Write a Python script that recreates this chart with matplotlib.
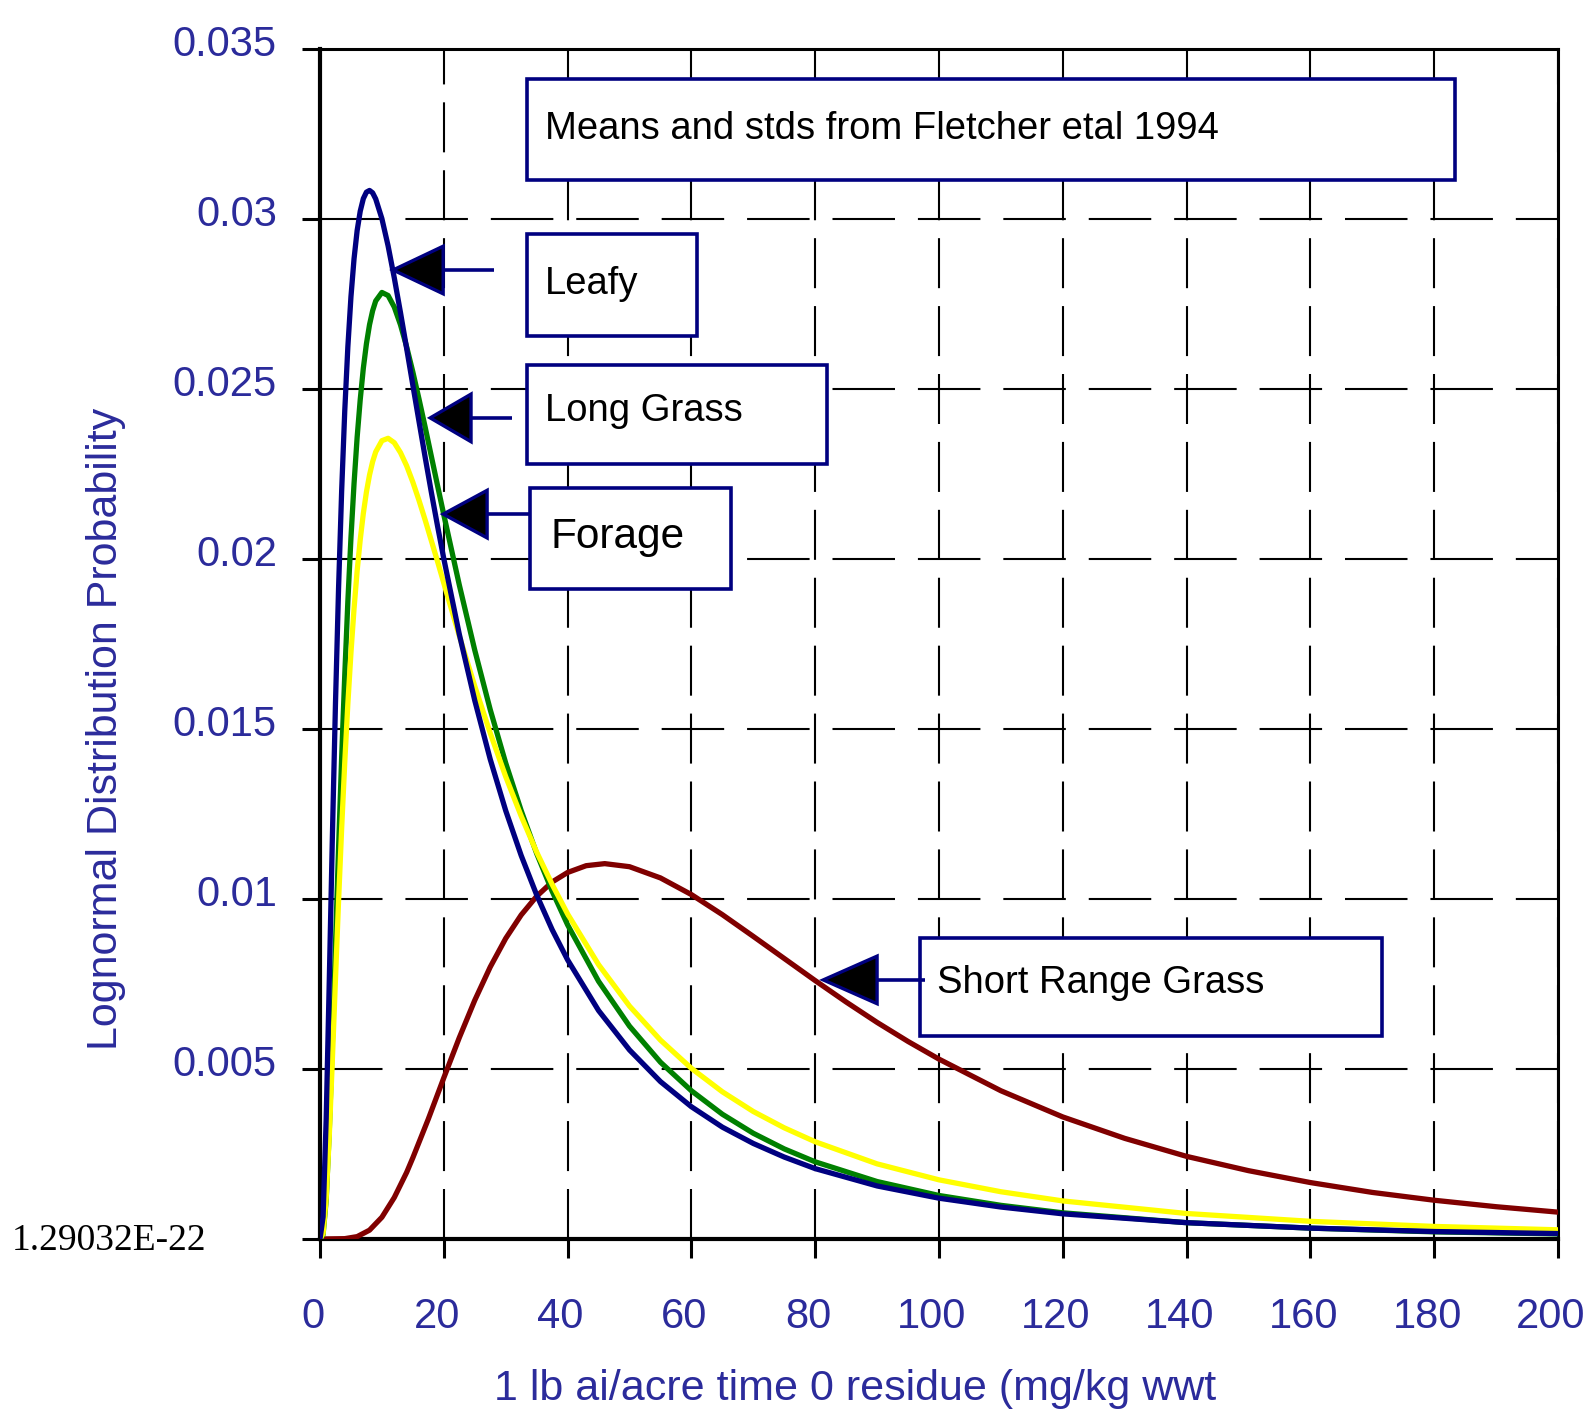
import matplotlib
matplotlib.use('Agg')
import matplotlib.pyplot as plt
from matplotlib.patches import Rectangle, Polygon
from matplotlib.transforms import ScaledTranslation

# ---------------- data ----------------
x_main = [0, 0.5, 1, 1.5, 2, 2.5, 3, 3.5, 4, 4.5, 5, 5.5, 6, 6.5, 7, 7.5, 8, 8.5,
          9, 10, 11, 12, 13, 14, 15, 16, 17, 18, 19, 20, 22.5, 25, 27.5, 30,
          32.5, 35, 37.5, 40, 45, 50, 55, 60, 65, 70, 75, 80, 90, 100, 110, 120,
          140, 160, 180, 200]
leafy = [0, 0.00065, 0.00354, 0.00761, 0.01184, 0.01575, 0.01915, 0.02201,
         0.02436, 0.02624, 0.02771, 0.02883, 0.02966, 0.03023, 0.0306, 0.03079,
         0.03084, 0.03077, 0.03059, 0.03001, 0.02921, 0.02827, 0.02725, 0.02619,
         0.02511, 0.02404, 0.02298, 0.02195, 0.02096, 0.02001, 0.01779, 0.01584,
         0.01411, 0.0126, 0.01128, 0.01012, 0.0091, 0.00821, 0.00672, 0.00556,
         0.00463, 0.00389, 0.00329, 0.00281, 0.00241, 0.00207, 0.00156, 0.0012,
         0.00094, 0.00074, 0.00048, 0.00032, 0.00022, 0.00016]
long_grass = [0, 0.00013, 0.00115, 0.00318, 0.0058, 0.00866, 0.0115, 0.01417,
              0.01659, 0.01875, 0.02062, 0.02222, 0.02358, 0.02469, 0.02561,
              0.02633, 0.02689, 0.0273, 0.02759, 0.02784, 0.02775, 0.02741,
              0.02689, 0.02624, 0.0255, 0.0247, 0.02387, 0.02301, 0.02215, 0.0213,
              0.01924, 0.01732, 0.01557, 0.014, 0.0126, 0.01134, 0.01023, 0.00924,
              0.00758, 0.00626, 0.0052, 0.00436, 0.00367, 0.00311, 0.00265,
              0.00227, 0.00169, 0.00128, 0.00099, 0.00077, 0.00048, 0.00032,
              0.00021, 0.00015]
forage = [0, 0.00016, 0.0012, 0.00303, 0.00528, 0.00764, 0.00994, 0.01208,
          0.01402, 0.01574, 0.01724, 0.01854, 0.01965, 0.02057, 0.02134, 0.02197,
          0.02247, 0.02286, 0.02315, 0.02348, 0.02355, 0.02342, 0.02313, 0.02274,
          0.02226, 0.02172, 0.02114, 0.02053, 0.01992, 0.01929, 0.01774, 0.01626,
          0.01488, 0.0136, 0.01244, 0.01138, 0.01043, 0.00956, 0.00807, 0.00685,
          0.00585, 0.00502, 0.00433, 0.00375, 0.00327, 0.00286, 0.00221, 0.00174,
          0.00139, 0.00112, 0.00075, 0.00052, 0.00037, 0.00027]
x_short = [0, 4, 6, 8, 10, 12, 14, 15, 17.5, 20, 22.5, 25, 27.5, 30, 32.5, 35,
           37.5, 40, 43, 46, 50, 55, 60, 65, 70, 75, 80, 85, 90, 95, 100, 110,
           120, 130, 140, 150, 160, 170, 180, 190, 200]
short_range_grass = [0, 0.00001, 0.00007, 0.00026, 0.00064, 0.00122, 0.00196,
                     0.00239, 0.00353, 0.00474, 0.00592, 0.00702, 0.008, 0.00884,
                     0.00953, 0.01008, 0.0105, 0.01078, 0.01098, 0.01104, 0.01095,
                     0.01062, 0.01013, 0.00954, 0.0089, 0.00825, 0.0076, 0.00697,
                     0.00637, 0.00581, 0.00529, 0.00436, 0.00359, 0.00296,
                     0.00243, 0.00201, 0.00166, 0.00137, 0.00114, 0.00095, 0.00079]

x_ticks = [0, 20, 40, 60, 80, 100, 120, 140, 160, 180, 200]
x_tick_labels = ['0', '20', '40', '60', '80', '100', '120', '140', '160', '180', '200']
y_ticks = [0, 0.005, 0.01, 0.015, 0.02, 0.025, 0.03, 0.035]
y_tick_labels = ['1.29032E-22', '0.005', '0.01', '0.015', '0.02', '0.025', '0.03', '0.035']

x_label = '1 lb ai/acre time 0 residue (mg/kg wwt'
y_label = 'Lognormal Distribution Probability'
note_text = 'Means and stds from Fletcher etal 1994'

# ---------------- styling ----------------
NAVY = '#000080'
TXT_BLUE = '#2b2b9b'
SANS = 'Liberation Sans'

fig = plt.figure(figsize=(15.9, 14.13), dpi=100)
L, R, B, T = 320/1590, 1558/1590, 1 - 1239/1413, 1 - 49/1413
ax = fig.add_axes([L, B, R - L, T - B])

LW = 3.8
kw = dict(lw=LW, zorder=3, solid_joinstyle='round', solid_capstyle='round')
ax.plot(x_short, short_range_grass, color='#800000', **kw)
ax.plot(x_main, long_grass, color='#008000', **kw)
ax.plot(x_main, forage, color='#ffff00', **kw)
ax.plot(x_main, leafy, color=NAVY, **kw)

ax.set_xlim(0, 200)
ax.set_ylim(0, 0.035)
ax.set_xticks(x_ticks)
ax.set_xticklabels(x_tick_labels)
ax.set_yticks(y_ticks)
ax.set_yticklabels(y_tick_labels)

# grid
ax.xaxis.grid(True, color='black', lw=1.5, linestyle=(0, (24, 8.6)), zorder=1)
ax.yaxis.grid(True, color='black', lw=1.5, linestyle=(0, (30, 11)), zorder=1)
ax.set_axisbelow(True)

for s in ['left', 'bottom']:
    ax.spines[s].set_linewidth(3.0)
for s in ['top', 'right']:
    ax.spines[s].set_linewidth(2.2)

ax.tick_params(axis='x', direction='out', length=14, width=2.2, color='black', pad=28)
ax.tick_params(axis='y', direction='out', length=13, width=2.2, color='black', pad=18)

for lab in ax.get_xticklabels():
    lab.set_fontfamily(SANS)
    lab.set_fontsize(30)
    lab.set_color(TXT_BLUE)
    lab.set_transform(lab.get_transform() + ScaledTranslation(-7/100, 0, fig.dpi_scale_trans))
ylabs = ax.get_yticklabels()
for i, lab in enumerate(ylabs):
    if i == 0:
        lab.set_fontfamily('Liberation Serif')
        lab.set_fontsize(27)
        lab.set_color('black')
        lab.set_transform(lab.get_transform() + ScaledTranslation(-71/100, 2/100, fig.dpi_scale_trans))
    else:
        lab.set_fontfamily(SANS)
        lab.set_fontsize(30)
        lab.set_color(TXT_BLUE)
        lab.set_transform(lab.get_transform() + ScaledTranslation(0, 8/100, fig.dpi_scale_trans))

fig.text(494/1590, 1 - 1389/1413, x_label, fontfamily=SANS, fontsize=31,
         color=TXT_BLUE, ha='left', va='center')
fig.text(106/1590, 1 - 729/1413, y_label, fontfamily=SANS, fontsize=31,
         color=TXT_BLUE, ha='center', va='center', rotation=90)

# ---------------- annotation boxes ----------------
def box(x0, x1, y0, y1, text, tx, ty, size):
    ax.add_patch(Rectangle((x0, y0), x1 - x0, y1 - y0, facecolor='white',
                           edgecolor=NAVY, lw=2.6, zorder=6, clip_on=False))
    ax.text(tx, ty, text, fontfamily=SANS, fontsize=size, color='black',
            ha='left', va='center', zorder=7)

def arrow(tipx, tipy, basex, endx, hh=0.0007):
    ax.add_patch(Polygon([(tipx, tipy), (basex, tipy + hh), (basex, tipy - hh)],
                         closed=True, facecolor='black', edgecolor=NAVY, lw=2.4,
                         zorder=8, clip_on=False))
    ax.plot([basex, endx], [tipy, tipy], color=NAVY, lw=2.6, zorder=7,
            solid_capstyle='butt')

box(33.4, 183.4, 0.03115, 0.03412, note_text, 36.3, 0.03266, 27.5)
box(33.4, 60.9, 0.02656, 0.02956, 'Leafy', 36.3, 0.0281, 27.5)
box(33.4, 81.9, 0.02279, 0.02571, 'Long Grass', 36.3, 0.02434, 27.5)
box(33.9, 66.4, 0.01912, 0.02209, 'Forage', 37.2, 0.02066, 30.5)
box(96.9, 171.6, 0.00597, 0.00885, 'Short Range Grass', 99.7, 0.00752, 27.5)

arrow(11.8, 0.0285, 19.9, 28.1)
arrow(17.8, 0.02415, 24.4, 31.0)
arrow(19.9, 0.02132, 27.0, 33.9)
arrow(81.3, 0.00762, 90.0, 97.7)

fig.savefig('out.png', dpi=100)
